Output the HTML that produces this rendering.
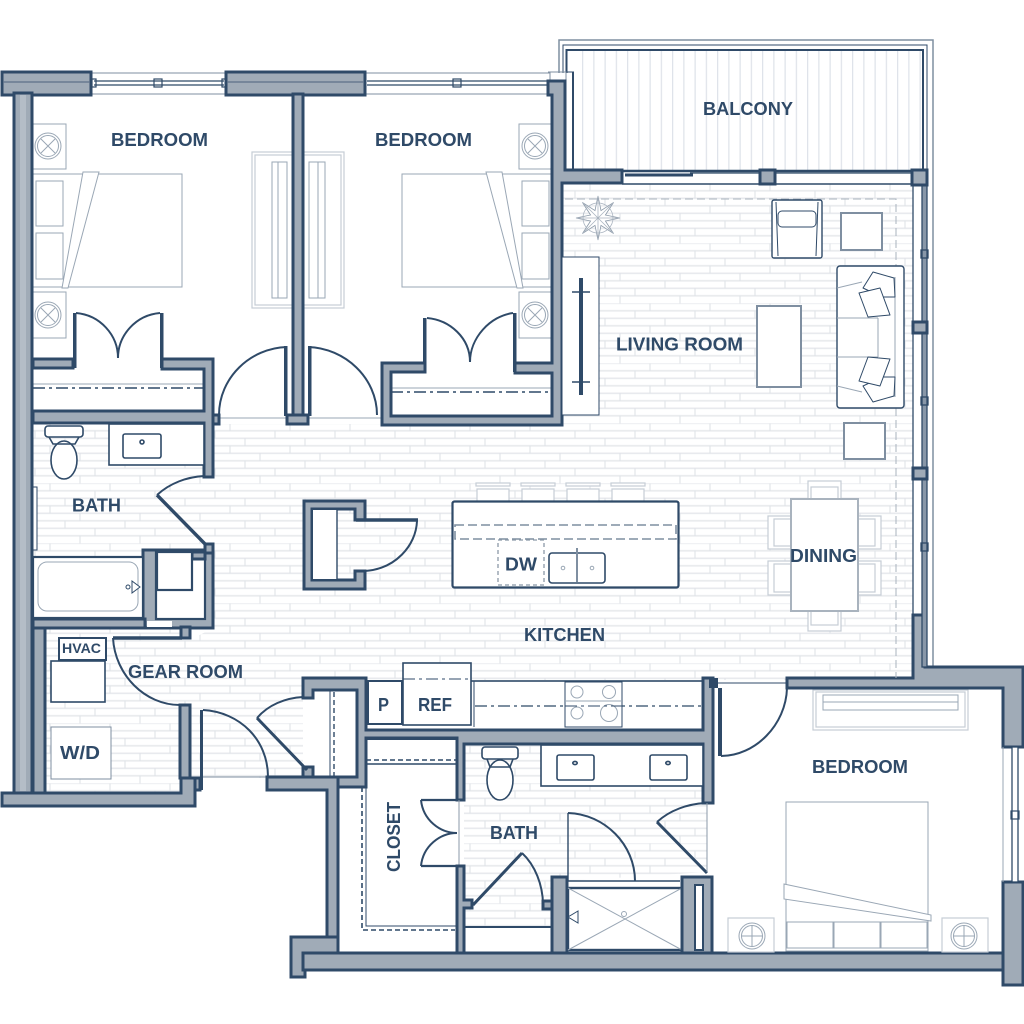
<!DOCTYPE html>
<html><head><meta charset="utf-8"><style>
html,body{margin:0;padding:0;background:#fff}
svg{display:block}
text{font-family:"Liberation Sans",sans-serif;font-weight:bold;fill:#2f4a68}
.w{fill:#a0abb7;stroke:#2f4a68;stroke-width:3}
.d{fill:#2f4a68}
.f{fill:#fff;stroke:#2f4a68;stroke-width:1.6}
.t{fill:#fff;stroke:#9aa7b5;stroke-width:1}
.l{fill:#fff;stroke:#c6cdd6;stroke-width:1.2}
.n{fill:none;stroke:#2f4a68;stroke-width:1.6}
.n2{fill:none;stroke:#2f4a68;stroke-width:2}
.h{fill:none;stroke:#9aa7b5;stroke-width:1}
.dsh{fill:none;stroke:#2f4a68;stroke-width:1.6;stroke-dasharray:12 4 3 4}
.ds2{fill:none;stroke:#2f4a68;stroke-width:1.6;stroke-dasharray:5 3}
.ds3{fill:none;stroke:#a9b3be;stroke-width:1;stroke-dasharray:8 4}
.th{fill:none;stroke:#2f4a68;stroke-width:3.4}
</style></head><body>
<svg width="1024" height="1024" viewBox="0 0 1024 1024" xmlns="http://www.w3.org/2000/svg">
<defs>
<pattern id="br" width="60" height="60" patternUnits="userSpaceOnUse" x="0" y="3.3">
<path d="M0 0H60M0 7.5H60M0 15H60M0 22.5H60M0 30H60M0 37.500H60M0 45H60M0 52.500H60" stroke="#e6e8ec" stroke-width="1.400" fill="none"/>
<path d="M50 0V7.500M35 7.500V15M5 15V22.500M50 22.500V30M20 30V37.500M5 37.500V45M35 45V52.500M20 52.500V60" stroke="#dde1e6" stroke-width="1" fill="none"/>
</pattern>
<pattern id="bal" width="11.250" height="120" patternUnits="userSpaceOnUse" x="582" y="51">
<path d="M0.600 0V120" stroke="#dfe3ea" stroke-width="1.300" fill="none"/>
</pattern>
</defs>
<rect width="1024" height="1024" fill="#fff"/>

<!-- floors -->
<polygon fill="url(#br)" points="562,184 913,184 913,680 303,680 303,778 190,778 190,792 45,792 45,628 190,628 190,640 213,628 213,550 143,550 143,557 33,557 33,424 562,424"/>
<polygon fill="url(#br)" points="464,744 707,744 707,872 568,881 552,881 552,927 464,927"/>
<rect x="575" y="51" width="347" height="119" fill="url(#bal)"/>

<!-- balcony frame -->
<path d="M559 73V40H933V667" fill="none" stroke="#7f8fa1" stroke-width="1.500"/>
<path d="M563 73V45H927V170" fill="none" stroke="#2f4a68" stroke-width="1"/>
<path d="M566.500 73V50H923V170" fill="none" stroke="#2f4a68" stroke-width="2"/>
<path d="M573 72V170" fill="none" stroke="#2f4a68" stroke-width="2"/>
<path d="M566 72H574" fill="none" stroke="#2f4a68" stroke-width="1"/>
<path d="M622 171H925" stroke="#2f4a68" stroke-width="2.400" fill="none"/>
<path d="M622 184H913" stroke="#2f4a68" stroke-width="1.600" fill="none"/>
<path d="M625 175H693" stroke="#2f4a68" stroke-width="3" fill="none"/>
<path d="M690 173H760M776 173H912" stroke="#2f4a68" stroke-width="1.200" fill="none"/>

<!-- windows top -->
<rect x="92" y="73" width="134" height="21" fill="#fff" stroke="#7f8fa1" stroke-width="1"/>
<path d="M94 81H224M94 85H224" stroke="#2f4a68" stroke-width="1.300" fill="none"/>
<rect x="154" y="79" width="8" height="8" fill="none" stroke="#2f4a68" stroke-width="1.200"/>
<rect x="92" y="79" width="4" height="8" fill="none" stroke="#2f4a68" stroke-width="1.200"/>
<rect x="222" y="79" width="4" height="8" fill="none" stroke="#2f4a68" stroke-width="1.200"/>
<rect x="365" y="73" width="185" height="21" fill="#fff" stroke="#7f8fa1" stroke-width="1"/>
<path d="M367 81H547M367 85H547" stroke="#2f4a68" stroke-width="1.300" fill="none"/>
<rect x="453" y="79" width="8" height="8" fill="none" stroke="#2f4a68" stroke-width="1.200"/>
<path d="M548 72H566V80" fill="none" stroke="#7f8fa1" stroke-width="1"/>

<!-- bedroom 1 furniture -->
<rect class="t" x="33" y="124" width="33" height="45"/>
<rect class="t" x="33" y="292" width="33" height="46"/>
<g class="h"><circle cx="48" cy="146" r="13"/><circle cx="48" cy="146" r="10.500"/><path d="M41 139L55 153M55 139L41 153"/><circle cx="48" cy="315" r="13"/><circle cx="48" cy="315" r="10.500"/><path d="M41 308L55 322M55 308L41 322"/></g>
<rect class="t" x="33" y="174" width="149" height="113"/>
<rect class="t" x="36" y="181" width="27" height="45"/>
<rect class="t" x="36" y="233" width="27" height="46"/>
<polygon class="t" points="83,172 99,172 68,288 62,288"/>
<rect class="l" x="252" y="152" width="41" height="156"/>
<rect class="l" x="255" y="155" width="38" height="150"/>
<path class="h" d="M272 162H287V298H272ZM278 162V298"/>
<rect class="l" x="303" y="152" width="41" height="156"/>
<rect class="l" x="303" y="155" width="38" height="150"/>
<path class="h" d="M309 162H325V298H309ZM318 162V298"/>

<!-- bedroom 2 furniture -->
<rect class="t" x="519" y="124" width="33" height="45"/>
<rect class="t" x="519" y="292" width="33" height="46"/>
<g class="h"><circle cx="535" cy="146" r="13"/><circle cx="535" cy="146" r="10.500"/><path d="M528 139L542 153M542 139L528 153"/><circle cx="535" cy="315" r="13"/><circle cx="535" cy="315" r="10.500"/><path d="M528 308L542 322M542 308L528 322"/></g>
<rect class="t" x="402" y="174" width="150" height="113"/>
<rect class="t" x="522" y="181" width="27" height="45"/>
<rect class="t" x="522" y="233" width="27" height="46"/>
<polygon class="t" points="486,172 502,172 523,288 517,288"/>

<!-- closets top -->
<path d="M33 384H204" stroke="#9aa7b5" fill="none"/>
<path class="dsh" d="M33 388H204"/>
<path d="M391 388H552" stroke="#9aa7b5" fill="none"/>
<path class="dsh" d="M391 392H552"/>
<path class="n2" d="M76 313C100 315 118 335 118 358M160 313C136 315 118 335 118 358"/>
<path class="n2" d="M427 318C450 320 470 338 470 362M513 313C490 316 470 338 470 362"/>
<path class="n2" d="M287 347C250 348 219 378 219 415M308 347C345 348 377 378 377 415"/>
<path d="M219 418H562" stroke="#9aa7b5" fill="none"/>

<!-- walls -->
<rect class="w" x="2" y="72" width="89" height="23"/>
<path d="M3 82H90" stroke="#5e7188" stroke-width="1.200"/>
<rect class="w" x="226" y="72" width="139" height="23"/>
<path d="M227 82H364" stroke="#5e7188" stroke-width="1.200"/>
<rect class="w" x="14" y="93" width="18" height="700"/>
<rect x="20" y="95" width="6" height="696" fill="#b4bdc7"/>
<rect class="w" x="293" y="94" width="10" height="323"/>
<rect class="d" x="284" y="346" width="3.500" height="70"/>
<rect class="d" x="308" y="346" width="3.500" height="70"/>
<rect class="w" x="287" y="415" width="21" height="9"/>
<rect class="w" x="33" y="359" width="40" height="9"/>
<rect class="d" x="73" y="313" width="3.500" height="55"/>
<rect class="d" x="160" y="313" width="3.500" height="55"/>
<rect class="d" x="423" y="318" width="3.500" height="54"/>
<rect class="d" x="513" y="313" width="3.500" height="59"/>
<polygon class="w" points="162,359 213,359 213,477 204,477 204,423 33,423 33,411 204,411 204,369 162,369"/>
<rect class="w" x="213" y="415" width="6" height="9"/>
<polygon class="w" points="548,81 565,81 565,170 622,170 622,183 562,183 562,425 382,425 382,363 425,363 425,372 391,372 391,416 552,416 552,373 515,373 515,363 552,363 552,95 548,95"/>

<!-- bath 1 -->
<rect class="f" x="109" y="424" width="95" height="41"/>
<rect class="n" x="123" y="434" width="38" height="24" rx="2"/>
<circle class="n" cx="142" cy="442" r="2"/>
<rect x="45" y="426" width="38" height="11" rx="3" class="f"/>
<ellipse class="f" cx="64" cy="460" rx="13" ry="19"/>
<path class="n" d="M49 437L53 444H75L79 437"/>
<path class="n2" d="M204 476C187 477 170 483 157 495"/>
<path class="th" d="M157 495L207 546"/>
<rect x="33" y="487" width="4" height="63" fill="#fff" stroke="#2f4a68" stroke-width="1"/>
<rect class="w" x="143" y="550" width="70" height="78"/>
<rect class="f" style="stroke-width:2.200" x="156" y="552" width="49" height="67"/>
<rect class="w" x="192" y="552" width="13" height="7"/>
<rect class="f" style="stroke-width:2.200" x="157" y="552" width="35" height="38"/>
<rect class="w" x="205" y="544" width="8" height="9"/>
<rect x="147" y="621" width="25" height="6" fill="#fff"/>
<rect class="f" style="stroke-width:2.200" x="33" y="557" width="110" height="61"/>
<rect class="h" x="38" y="562" width="100" height="49" rx="9"/>
<polygon points="132,581 140,587 132,593" fill="#fff" stroke="#2f4a68"/>
<circle class="n" cx="128" cy="587" r="2" style="stroke-width:1"/>
<rect class="w" x="33" y="619" width="112" height="9"/>

<!-- gear room -->
<rect class="w" x="33" y="628" width="12" height="165"/>
<polygon class="w" points="2,793 181,793 181,778 195,778 195,806 2,806"/>
<rect class="w" x="180" y="705" width="10" height="73"/>
<rect class="w" x="181" y="627" width="9" height="11"/>
<path class="th" d="M113 638H182"/>
<path class="n2" d="M113 638C115 675 145 705 180 705"/>
<rect class="f" style="stroke-width:2" x="59" y="638" width="47" height="22"/>
<rect class="f" x="51" y="661" width="54" height="41"/>
<rect class="t" style="stroke:#7f8fa1" x="51" y="727" width="60" height="52"/>
<rect class="d" x="200" y="710" width="3" height="80"/>
<rect class="w" x="195" y="778" width="5" height="12"/>
<path class="n2" d="M203 710C240 712 268 740 268 777"/>
<path d="M203 777H268" stroke="#7f8fa1" fill="none"/>
<polygon class="w" points="267,777 338,777 338,953 327,953 327,790 267,790"/>
<polygon class="w" points="291,937 338,937 338,953 305,953 305,977 291,977"/>
<rect class="w" x="303" y="953" width="700" height="17"/>

<!-- center closet -->
<polygon class="w" points="304,501 365,501 365,520 355,520 355,509 312,509 312,580 355,580 355,571 365,571 365,589 304,589"/>
<rect fill="#fff" x="313" y="510" width="24" height="69"/>
<path d="M337 510V579" stroke="#2f4a68" stroke-width="1.400" fill="none"/>
<path class="th" d="M356 520H418" style="stroke-width:3.600"/>
<path class="n2" d="M417 521C416 546 395 569 365 571"/>

<!-- kitchen counter -->
<rect class="f" x="366" y="681" width="338" height="50"/>
<rect class="f" style="stroke-width:2" x="368" y="681" width="34" height="43"/>
<rect class="f" x="403" y="663" width="68" height="62"/>
<path class="dsh" d="M403 679H471" style="stroke-width:1"/>
<path class="ds2" d="M403 725H471" style="stroke-width:1"/>
<path class="dsh" d="M475 706H703" style="stroke-width:1.200"/>
<rect class="f" style="stroke-width:1" x="565" y="682" width="57" height="45"/>
<g class="h"><circle cx="577" cy="692" r="6"/><circle cx="609" cy="692" r="6.500"/><circle cx="577" cy="713" r="6"/><circle cx="609" cy="713" r="8.500"/><path d="M565 701H622"/></g>
<path class="dsh" d="M565 706H622" style="stroke-width:1"/>
<path d="M474 681V727" stroke="#2f4a68" fill="none"/>
<path class="ds2" d="M334 692V777" style="stroke-width:1.400"/>
<path class="n" d="M330 690V777" style="stroke-width:1"/>

<!-- closet + wall band -->
<path class="n2" d="M366 739H457"/>
<path d="M366 764H457" stroke="#2f4a68" stroke-width="1.600" fill="none"/>
<path class="ds2" d="M366 760H457"/>
<path d="M366 787V926H457" stroke="#2f4a68" stroke-width="1" fill="none"/>
<path class="ds2" d="M362 787V930H455"/>
<polygon class="w" points="303,678 366,678 366,730 703,730 703,678 713,678 713,803 703,803 703,744 464,744 464,800 457,800 457,738 366,738 366,787 338,787 338,777 357,777 357,690 313,690 313,698 303,698"/>
<rect class="w" x="303" y="767" width="10" height="10"/>
<path class="th" d="M257 718L307 770" style="stroke-width:3"/>
<path class="n2" d="M303 697C285 698 268 705 257 718"/>
<path class="n2" d="M421 800C423 820 440 833 457 833M421 866C423 846 440 833 457 833"/>
<path class="th" d="M421 800H458M421 866H458" style="stroke-width:2.200"/>

<!-- bath 2 -->
<rect class="f" x="541" y="745" width="162" height="41"/>
<rect class="n" x="557" y="755" width="37" height="25" rx="2"/>
<rect class="n" x="650" y="755" width="37" height="25" rx="2"/>
<ellipse class="n" cx="575" cy="763" rx="2.200" ry="1.600"/>
<ellipse class="n" cx="668" cy="763" rx="2.200" ry="1.600"/>
<rect class="f" x="482" y="747" width="36" height="12" rx="3"/>
<ellipse class="f" cx="500" cy="780" rx="13" ry="20"/>
<path class="n" d="M487 759L490 767H510L513 759"/>
<path d="M459 800V866" stroke="#8b99a8" stroke-width="1" fill="none"/>
<polygon class="w" points="457,866 464,866 464,900 472,900 472,908 464,908 464,953 457,953"/>
<path class="th" d="M473 905L522 853" style="stroke-width:3"/>
<path class="n2" d="M522 853C535 865 543 885 543 905"/>
<rect class="w" x="543" y="901" width="9" height="8"/>
<rect class="w" x="552" y="877" width="15" height="76"/>
<path class="n2" d="M465 927H552"/>
<path class="n" d="M568 813V881M568 881H680" style="stroke-width:1.400"/>
<path class="n2" d="M568 813C605 814 635 845 635 881"/>
<rect class="f" style="stroke-width:2.400" x="568" y="888" width="114" height="62"/>
<path class="h" d="M568 888L682 950M682 888L568 950"/>
<circle class="t" cx="624" cy="914" r="2.500"/>
<polygon points="578,911 568,917 578,923" fill="#fff" stroke="#2f4a68"/>
<rect class="w" x="682" y="877" width="30" height="76"/>
<rect class="f" style="stroke-width:2" x="695" y="885" width="8" height="65"/>
<path class="th" d="M657 822L707 873" style="stroke-width:3"/>
<path class="n2" d="M657 822C670 810 688 804 705 803"/>
<path d="M707 803V872" stroke="#8b99a8" stroke-width="1" fill="none"/>

<!-- bedroom 3 -->
<rect class="t" x="786" y="802" width="142" height="149"/>
<rect class="t" x="787" y="922" width="46" height="26"/>
<rect class="t" x="834" y="922" width="46" height="26"/>
<rect class="t" x="881" y="922" width="46" height="26"/>
<polygon class="t" points="784,884 931,915 931,921 784,899"/>
<rect class="l" x="728" y="918" width="46" height="34"/>
<rect class="l" x="942" y="918" width="46" height="34"/>
<g class="h"><circle cx="752" cy="936" r="13"/><circle cx="752" cy="936" r="10.500"/><path d="M741.500 936H762.500M752 925.500V946.500"/><circle cx="964" cy="936" r="13"/><circle cx="964" cy="936" r="10.500"/><path d="M953.500 936H974.500M964 925.500V946.500"/></g>
<rect class="l" x="813" y="690" width="155" height="40"/>
<rect class="l" x="816" y="692" width="149" height="35"/>
<path class="h" d="M823 695H958V710H823ZM823 702H958"/>
<path class="n2" d="M787 688C786 725 755 756 721 756"/>
<rect x="718" y="688" width="4" height="68" class="d"/>
<path d="M713 683H787" stroke="#2f4a68" stroke-width="1" fill="none"/>
<rect class="d" x="709" y="678" width="9" height="10"/>
<rect class="d" x="786" y="678" width="5" height="10"/>
<polygon class="w" points="913,615 925,615 925,667 1023,667 1023,747 1003,747 1003,688 787,688 787,678 913,678"/>
<rect class="w" x="1003" y="882" width="20" height="103"/>
<path d="M1003 747V882" stroke="#9aa7b5" fill="none"/>
<rect x="1012" y="747" width="6" height="135" fill="#fff" stroke="#2f4a68" stroke-width="1.300"/>
<rect x="1011" y="811" width="8" height="8" fill="none" stroke="#2f4a68" stroke-width="1.200"/>

<!-- living east wall -->
<path d="M913 185V615" stroke="#2f4a68" stroke-width="1.300" fill="none"/>
<rect x="922" y="185" width="5" height="482" fill="#8897a8" stroke="#2f4a68" stroke-width="1.300"/>
<rect class="w" x="760" y="170" width="15" height="14"/>
<rect class="w" x="912" y="170" width="15" height="15"/>
<rect class="w" x="913" y="322" width="14" height="11"/>
<rect class="w" x="913" y="468" width="14" height="11"/>
<rect x="921" y="250" width="7" height="8" fill="none" stroke="#2f4a68" stroke-width="1.300"/>
<rect x="921" y="397" width="7" height="8" fill="none" stroke="#2f4a68" stroke-width="1.300"/>
<rect x="921" y="543" width="7" height="8" fill="none" stroke="#2f4a68" stroke-width="1.300"/>
<path class="ds3" d="M565 199H896V678"/>

<!-- living furniture -->
<rect class="t" style="stroke:#2f4a68" x="562" y="257" width="37" height="158"/>
<path d="M581 278V395" stroke="#2f4a68" stroke-width="4" fill="none"/>
<path d="M572 292H590M572 382H590" stroke="#2f4a68" stroke-width="1.600" fill="none"/>
<g fill="#fff" stroke="#8b99a8" stroke-width="0.800"><polygon points="620,218 605.400,221 613.600,233.600 601,225.400 598,240 595,225.400 582.400,233.600 590.600,221 576,218 590.600,215 582.400,202.400 595,210.600 598,196 601,210.600 613.600,202.400 605.400,215"/></g>
<circle cx="598" cy="218" r="15" fill="none" stroke="#aab4c0" stroke-width="0.800"/>
<path fill="none" stroke="#aab4c0" stroke-width="0.800" d="M576 218H620M598 196V240M582.400 202.400L613.600 233.600M613.600 202.400L582.400 233.600"/>
<rect class="f" style="stroke-width:1.400" x="772" y="200" width="50" height="58" rx="2"/>
<path class="n" style="stroke-width:1" d="M776 202L778 256M818 202L816 256"/>
<rect class="n" style="stroke-width:1" x="778" y="211" width="38" height="16" rx="4"/>
<rect class="f" style="stroke:#7f8fa1;stroke-width:2" x="841" y="213" width="41" height="37"/>
<rect class="f" style="stroke:#7f8fa1;stroke-width:2" x="844" y="423" width="41" height="36"/>
<rect class="f" style="stroke:#7f8fa1;stroke-width:2" x="757" y="306" width="44" height="81"/>
<rect class="f" style="stroke-width:1.400" x="837" y="266" width="67" height="142" rx="3"/>
<path class="h" d="M895 277V397M878 318V357M837 288L862 282M837 318H878M837 357H878M837 386L862 392"/>
<polygon class="f" style="stroke-width:1;stroke-linejoin:round" points="863,288 873,272 894,278 895,297 882,297"/>
<polygon class="f" style="stroke-width:1;stroke-linejoin:round" points="859,293 880,288 890,315 868,317"/>
<polygon class="f" style="stroke-width:1;stroke-linejoin:round" points="863,386 873,402 894,396 895,377 882,377"/>
<polygon class="f" style="stroke-width:1;stroke-linejoin:round" points="859,381 880,386 890,359 868,357"/>

<!-- island + stools -->
<g class="l">
<rect x="476" y="483" width="34" height="3"/><rect x="521" y="483" width="34" height="3"/><rect x="566" y="483" width="34" height="3"/><rect x="611" y="483" width="34" height="3"/>
<rect x="477" y="489" width="32" height="13"/><rect x="522" y="489" width="32" height="13"/><rect x="567" y="489" width="32" height="13"/><rect x="612" y="489" width="32" height="13"/>
</g>
<rect class="f" style="stroke-width:2.200" x="452.500" y="501.500" width="226" height="86" rx="2"/>
<rect x="455" y="525" width="221" height="14" fill="none" stroke="#7f8fa1" stroke-width="1.600" stroke-dasharray="9 4"/>
<rect x="498" y="540" width="46" height="45" fill="none" stroke="#8b99a8" stroke-width="1.300" stroke-dasharray="4 3"/>
<rect class="n" x="549" y="553" width="56" height="30" rx="3"/>
<path d="M577 548V582" stroke="#7f8fa1" stroke-width="2" fill="none"/>
<circle class="h" cx="563" cy="568" r="1.800"/><circle class="h" cx="592" cy="568" r="1.800"/>

<!-- dining -->
<g class="l">
<rect x="808" y="481" width="33" height="18"/><rect x="811" y="487" width="27" height="12"/>
<rect x="808" y="611" width="33" height="20"/><rect x="811" y="611" width="27" height="14"/>
<rect x="768" y="516" width="23" height="33"/><rect x="774" y="519" width="17" height="27"/>
<rect x="768" y="561" width="23" height="34"/><rect x="774" y="564" width="17" height="28"/>
<rect x="858" y="516" width="23" height="33"/><rect x="858" y="519" width="17" height="27"/>
<rect x="858" y="561" width="23" height="34"/><rect x="858" y="564" width="17" height="28"/>
</g>
<rect class="l" style="stroke:#a9b3be;stroke-width:2" x="791" y="499" width="67" height="112"/>

<!-- labels -->
<text x="111" y="146" font-size="18" textLength="97" lengthAdjust="spacingAndGlyphs">BEDROOM</text>
<text x="375" y="146" font-size="18" textLength="97" lengthAdjust="spacingAndGlyphs">BEDROOM</text>
<text x="703" y="115" font-size="18" textLength="90" lengthAdjust="spacingAndGlyphs">BALCONY</text>
<text x="616" y="350.500" font-size="18" textLength="127" lengthAdjust="spacingAndGlyphs">LIVING ROOM</text>
<text x="72" y="511.500" font-size="18" textLength="49" lengthAdjust="spacingAndGlyphs">BATH</text>
<text x="128" y="678" font-size="18" textLength="115" lengthAdjust="spacingAndGlyphs">GEAR ROOM</text>
<text x="62" y="653" font-size="13.500" textLength="39" lengthAdjust="spacingAndGlyphs">HVAC</text>
<text x="60" y="759" font-size="18" textLength="40" lengthAdjust="spacingAndGlyphs">W/D</text>
<text x="505" y="570.500" font-size="18" textLength="32" lengthAdjust="spacingAndGlyphs">DW</text>
<text x="790" y="562" font-size="18" textLength="67" lengthAdjust="spacingAndGlyphs">DINING</text>
<text x="524" y="641" font-size="18" textLength="81" lengthAdjust="spacingAndGlyphs">KITCHEN</text>
<text x="378" y="711" font-size="18" textLength="11" lengthAdjust="spacingAndGlyphs">P</text>
<text x="418" y="711" font-size="18" textLength="34" lengthAdjust="spacingAndGlyphs">REF</text>
<text x="490" y="839" font-size="18" textLength="48" lengthAdjust="spacingAndGlyphs">BATH</text>
<text transform="translate(400 872) rotate(-90)" x="0" y="0" font-size="18" textLength="70" lengthAdjust="spacingAndGlyphs">CLOSET</text>
<text x="812" y="773" font-size="18" textLength="96" lengthAdjust="spacingAndGlyphs">BEDROOM</text>
</svg>
</body></html>
